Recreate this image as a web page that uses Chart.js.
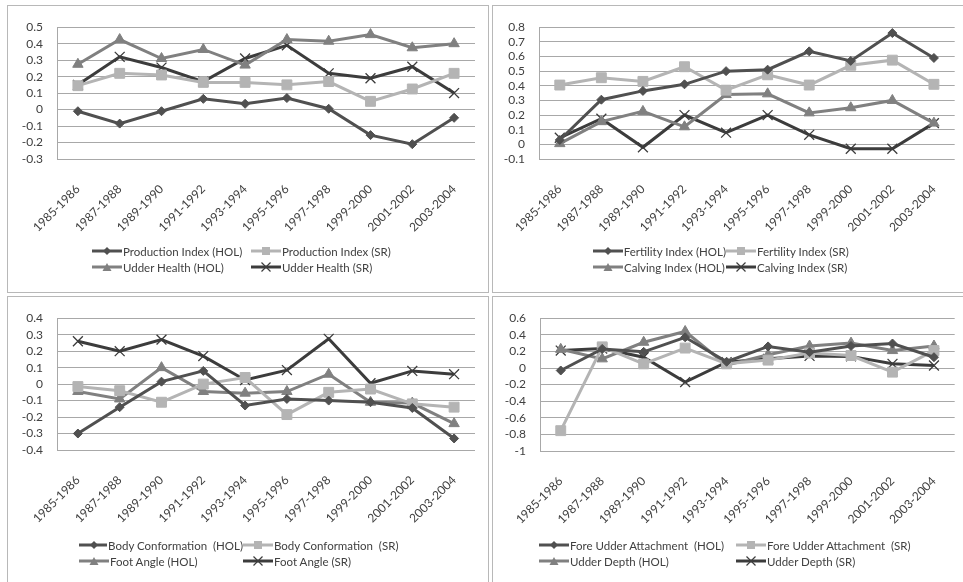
<!DOCTYPE html>
<html>
<head>
<meta charset="utf-8">
<script src="https://cdn.jsdelivr.net/npm/chart.js"></script>
<style>
  body { margin: 0; background: #fff; width: 963px; height: 582px; overflow: hidden; position: relative; font-family: Lato, "Open Sans", sans-serif; }
  .panel { position: absolute; border: 1px solid #b8b8b8; box-sizing: border-box; }
  .panel canvas { position: absolute; left: 0; top: 0; }
  .legend { position: absolute; display: grid; grid-auto-rows: 16px; font-size: 11.5px; color: #404040; white-space: pre; }
  .legend div { display: flex; align-items: center; }
  .legend svg { margin-right: 1px; }
</style>
</head>
<body>
<div class="panel" id="p1" style="left:7px;top:5px;width:482px;height:288px"><canvas id="c1"></canvas></div>
<div class="panel" id="p2" style="left:492px;top:5px;width:480px;height:288px"><canvas id="c2"></canvas></div>
<div class="panel" id="p3" style="left:7px;top:296px;width:482px;height:290px"><canvas id="c3"></canvas></div>
<div class="panel" id="p4" style="left:492px;top:296px;width:480px;height:290px"><canvas id="c4"></canvas></div>
<div class="legend" id="l1" style="left:92px;top:243px;grid-template-columns:159px auto"></div>
<div class="legend" id="l2" style="left:593px;top:243px;grid-template-columns:133px auto"></div>
<div class="legend" id="l3" style="left:79px;top:537px;grid-template-columns:164px auto"></div>
<div class="legend" id="l4" style="left:539px;top:537px;grid-template-columns:197px auto"></div>
<script>
// Data
const categories = ["1985-1986", "1987-1988", "1989-1990", "1991-1992", "1993-1994",
  "1995-1996", "1997-1998", "1999-2000", "2001-2002", "2003-2004"];

const prodHol = [-0.01, -0.085, -0.01, 0.065, 0.035, 0.07, 0.005, -0.155, -0.21, -0.05];
const prodSr = [0.145, 0.22, 0.21, 0.165, 0.165, 0.15, 0.17, 0.05, 0.125, 0.22];
const udderHealthHol = [0.275, 0.425, 0.31, 0.365, 0.27, 0.425, 0.415, 0.455, 0.375, 0.4];
const udderHealthSr = [0.15, 0.32, 0.255, 0.17, 0.31, 0.39, 0.22, 0.19, 0.26, 0.1];

const fertHol = [0.03, 0.305, 0.365, 0.41, 0.5, 0.51, 0.635, 0.57, 0.76, 0.59];
const fertSr = [0.405, 0.455, 0.43, 0.53, 0.37, 0.475, 0.405, 0.54, 0.575, 0.41];
const calvHol = [0.005, 0.155, 0.225, 0.12, 0.34, 0.345, 0.215, 0.25, 0.3, 0.145];
const calvSr = [0.045, 0.175, -0.02, 0.2, 0.08, 0.2, 0.065, -0.03, -0.03, 0.145];

const bodyHol = [-0.3, -0.14, 0.015, 0.08, -0.13, -0.09, -0.1, -0.11, -0.145, -0.33];
const bodySr = [-0.015, -0.04, -0.11, 0.0, 0.04, -0.185, -0.05, -0.03, -0.12, -0.14];
const footHol = [-0.045, -0.09, 0.1, -0.045, -0.055, -0.045, 0.06, -0.11, -0.115, -0.24];
const footSr = [0.26, 0.2, 0.27, 0.17, 0.025, 0.085, 0.275, 0.005, 0.08, 0.06];

const foreHol = [-0.03, 0.23, 0.195, 0.37, 0.075, 0.26, 0.19, 0.265, 0.295, 0.13];
const foreSr = [-0.755, 0.255, 0.05, 0.24, 0.05, 0.095, 0.18, 0.15, -0.05, 0.21];
const depthHol = [0.225, 0.11, 0.31, 0.44, 0.035, 0.16, 0.265, 0.3, 0.21, 0.265];
const depthSr = [0.21, 0.235, 0.13, -0.17, 0.07, 0.11, 0.145, 0.14, 0.05, 0.03];

// y axis: min, max, step
const ticks1 = [-0.3, 0.5, 0.1];
const ticks2 = [-0.1, 0.8, 0.1];
const ticks3 = [-0.4, 0.4, 0.1];
const ticks4 = [-1, 0.6, 0.2];

// series styles: HOL diamond, SR square, HOL triangle, SR cross
const styles = [
  { color: "#505050", point: "rectRot", radius: 4.5, pbw: 1 },
  { color: "#b4b4b4", point: "rect", radius: 7, pbw: 1 },
  { color: "#808080", point: "triangle", radius: 6, pbw: 1 },
  { color: "#3c3c3c", point: "crossRot", radius: 7, pbw: 1.3 }
];

function makeChart(canvasId, legendId, names, series, yTicks, box) {
  const canvas = document.getElementById(canvasId);
  canvas.width = box.w;
  canvas.height = box.h;
  canvas.style.width = box.w + "px";
  canvas.style.height = box.h + "px";

  const datasets = series.map((d, i) => ({
    label: names[i],
    data: d,
    borderColor: styles[i].color,
    backgroundColor: styles[i].color,
    pointBackgroundColor: styles[i].color,
    pointBorderColor: styles[i].color,
    borderWidth: 3,
    pointStyle: styles[i].point,
    pointRadius: styles[i].radius,
    pointBorderWidth: styles[i].pbw,
    tension: 0
  }));

  new Chart(canvas.getContext("2d"), {
    type: "line",
    data: { labels: categories, datasets },
    options: {
      responsive: false,
      animation: false,
      layout: { padding: { left: 0, top: box.top, right: box.w - box.right, bottom: 0 } },
      plugins: { legend: { display: false }, tooltip: { enabled: false } },
      scales: {
        x: {
          offset: true,
          grid: { display: false },
          border: { display: false },
          ticks: { color: "#404040", font: { family: "Lato", size: 12 }, minRotation: 45, maxRotation: 45, padding: 15, autoSkip: false },
          afterFit: (axis) => { axis.height = box.h - box.bottom; }
        },
        y: {
          min: yTicks[0],
          max: yTicks[1],
          grid: { color: "#a8a8a8", drawTicks: false },
          border: { color: "#a8a8a8" },
          ticks: {
            stepSize: yTicks[2], autoSkip: false, color: "#404040",
            font: { family: "Lato", size: 12 }, padding: 14,
            callback: (v) => String(Number(v.toFixed(2)))
          },
          afterFit: (axis) => { axis.width = box.left; }
        }
      }
    }
  });

  // legend, two columns like the original
  const legendEl = document.getElementById(legendId);
  names.forEach((name, i) => {
    const s = styles[i];
    const item = document.createElement("div");
    let marker = "";
    if (s.point === "rectRot") marker = `<polygon points="15,1 19,5 15,9 11,5" fill="${s.color}"/>`;
    if (s.point === "rect") marker = `<rect x="11" y="1" width="8" height="8" fill="${s.color}"/>`;
    if (s.point === "triangle") marker = `<polygon points="15,1 19.5,9 10.5,9" fill="${s.color}"/>`;
    if (s.point === "crossRot") marker = `<path d="M10.5,0.5 L19.5,9.5 M19.5,0.5 L10.5,9.5" stroke="${s.color}" stroke-width="1.2"/>`;
    item.innerHTML = `<svg width="30" height="10"><line x1="0" y1="5" x2="30" y2="5" stroke="${s.color}" stroke-width="3"/>${marker}</svg><span>${name}</span>`;
    legendEl.appendChild(item);
  });
}

makeChart("c1", "l1",
  ["Production Index (HOL)", "Production Index (SR)", "Udder Health (HOL)", "Udder Health (SR)"],
  [prodHol, prodSr, udderHealthHol, udderHealthSr], ticks1,
  { w: 480, h: 286, left: 49, right: 467, top: 13, bottom: 153 });

makeChart("c2", "l2",
  ["Fertility Index (HOL)", "Fertility Index (SR)", "Calving Index (HOL)", "Calving Index (SR)"],
  [fertHol, fertSr, calvHol, calvSr], ticks2,
  { w: 470, h: 286, left: 46, right: 464, top: 13, bottom: 153 });

makeChart("c3", "l3",
  ["Body Conformation  (HOL)", "Body Conformation  (SR)", "Foot Angle (HOL)", "Foot Angle (SR)"],
  [bodyHol, bodySr, footHol, footSr], ticks3,
  { w: 480, h: 286, left: 49, right: 467, top: 14, bottom: 153 });

makeChart("c4", "l4",
  ["Fore Udder Attachment  (HOL)", "Fore Udder Attachment  (SR)", "Udder Depth (HOL)", "Udder Depth (SR)"],
  [foreHol, foreSr, depthHol, depthSr], ticks4,
  { w: 470, h: 286, left: 47, right: 465, top: 14, bottom: 154 });
</script>
</body>
</html>
